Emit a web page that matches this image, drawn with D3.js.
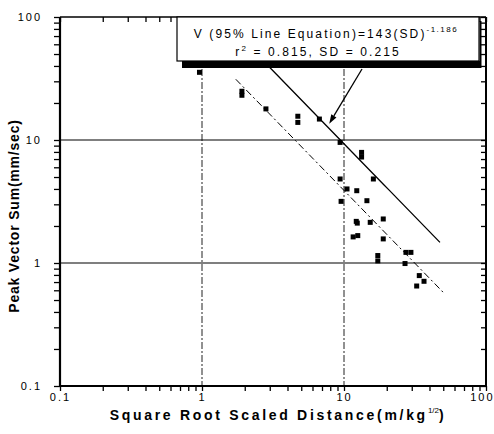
<!DOCTYPE html>
<html>
<head>
<meta charset="utf-8">
<script src="https://cdn.jsdelivr.net/npm/d3@7"></script>
<style>
  html, body { margin: 0; padding: 0; background: #fff; }
  svg { display: block; font-family: "Liberation Sans", Arial, sans-serif; }
</style>
</head>
<body>
<svg id="chart" width="494" height="434"></svg>
<script>
// Square-root scaled distance (m/kg^1/2) for each blast record
const sd = [0.96, 1.91, 1.91, 2.82, 4.73, 4.73, 6.71, 9.39, 13.3, 13.3,
            16.1, 9.39, 10.5, 12.3, 9.54, 14.5, 12.2, 12.4, 15.3, 18.9,
            11.6, 12.5, 18.9, 17.3, 17.3, 27.3, 29.6, 26.9, 33.9, 36.6, 32.5];
// Peak vector sum (mm/sec) for each record
const pvs = [35.5, 24.9, 23.1, 17.9, 15.6, 13.9, 14.8, 9.56, 7.93, 7.27,
             4.82, 4.82, 4.0, 3.87, 3.17, 3.21, 2.18, 2.11, 2.14, 2.28,
             1.63, 1.67, 1.57, 1.15, 1.04, 1.22, 1.22, 0.99, 0.79, 0.71, 0.65];

// Attenuation lines V = K * SD^b
const fitExponent = -1.186;
const fit95K = 143;      // 95% line
const fit50K = 59.7;     // mean line
const fit95Range = [1.73, 47.4];
const fit50Range = [1.73, 51.4];

const majorTicks = [0.1, 1, 10, 100];
const tickLabels = ["0.1", "1", "10", "100"];

const svg = d3.select("#chart");
const plotL = 60, plotR = 486, plotT = 17, plotB = 386;

const x = d3.scaleLog().domain([0.1, 100]).range([plotL, plotR]);
const y = d3.scaleLog().domain([0.1, 100]).range([plotB, plotT]);

// all decade sub-ticks 1..9 x 10^k
const allTicks = [];
[0.1, 1, 10].forEach(d => { for (let m = 1; m < 10; m++) allTicks.push(+(d * m).toPrecision(3)); });
allTicks.push(100);
const isMajor = v => majorTicks.some(m => Math.abs(m - v) < 1e-9);
const labelOf = v => tickLabels[majorTicks.findIndex(m => Math.abs(m - v) < 1e-9)];

// grid lines at 1 and 10
const g = svg.append("g");
[1, 10].forEach(v => {
  g.append("line").attr("x1", plotL).attr("x2", plotR)
    .attr("y1", y(v)).attr("y2", y(v))
    .attr("stroke", "#000").attr("stroke-width", 1.2);
  g.append("line").attr("x1", x(v)).attr("x2", x(v))
    .attr("y1", plotT).attr("y2", plotB)
    .attr("stroke", "#222").attr("stroke-width", 1)
    .attr("stroke-dasharray", "7,2,2,2");
});

// axes
const tickStyle = sel => {
  sel.select(".domain").remove();
  sel.selectAll(".tick line").attr("stroke", "#000").attr("stroke-width", 1.3);
  sel.selectAll(".tick text")
    .attr("font-size", 11).attr("letter-spacing", "2px").attr("fill", "#000");
};

const xAxisG = svg.append("g").attr("transform", `translate(0,${plotB})`)
  .call(d3.axisBottom(x).tickValues(allTicks).tickSize(5).tickPadding(2)
    .tickFormat(v => isMajor(v) ? labelOf(v) : ""))
  .call(tickStyle);
// keep the last label inside the page
xAxisG.selectAll(".tick text").filter(v => v === 100)
  .attr("text-anchor", "end").attr("x", 494 - plotR);

svg.append("g").attr("transform", `translate(0,${plotT})`)
  .call(d3.axisBottom(x).tickValues(allTicks).tickSize(5).tickFormat(""))
  .call(tickStyle);

svg.append("g").attr("transform", `translate(${plotL},0)`)
  .call(d3.axisLeft(y).tickValues(allTicks).tickSize(6).tickPadding(12)
    .tickFormat(v => isMajor(v) ? labelOf(v) : ""))
  .call(tickStyle);

svg.append("g").attr("transform", `translate(${plotR},0)`)
  .call(d3.axisLeft(y).tickValues(allTicks).tickSize(5).tickFormat(""))
  .call(tickStyle);

// frame
svg.append("line").attr("x1", plotL).attr("x2", plotR).attr("y1", plotT).attr("y2", plotT)
  .attr("stroke", "#000").attr("stroke-width", 1.5);
svg.append("line").attr("x1", plotL).attr("x2", plotR).attr("y1", plotB).attr("y2", plotB)
  .attr("stroke", "#000").attr("stroke-width", 2);
svg.append("line").attr("x1", plotL).attr("x2", plotL).attr("y1", plotT).attr("y2", plotB)
  .attr("stroke", "#000").attr("stroke-width", 2.2);
svg.append("line").attr("x1", plotR).attr("x2", plotR).attr("y1", plotT).attr("y2", plotB)
  .attr("stroke", "#000").attr("stroke-width", 2);

// attenuation lines
const fitLine = (K, range) => {
  const pts = d3.range(0, 41).map(i => {
    const s = Math.exp(Math.log(range[0]) + (Math.log(range[1]) - Math.log(range[0])) * i / 40);
    return [s, K * Math.pow(s, fitExponent)];
  });
  return d3.line().x(d => x(d[0])).y(d => y(d[1]))(pts);
};
svg.append("path").attr("d", fitLine(fit50K, fit50Range))
  .attr("fill", "none").attr("stroke", "#000").attr("stroke-width", 1)
  .attr("stroke-dasharray", "7,3,2,3");
svg.append("path").attr("d", fitLine(fit95K, fit95Range))
  .attr("fill", "none").attr("stroke", "#000").attr("stroke-width", 1.3);

// data points
svg.append("g").selectAll("rect").data(sd.map((s, i) => [s, pvs[i]]))
  .join("rect")
  .attr("x", d => x(d[0]) - 2.5).attr("y", d => y(d[1]) - 2.5)
  .attr("width", 5).attr("height", 5).attr("fill", "#000");

// equation box with a shadow band under it
const box = { x: 177, y: plotT, w: 302, h: 44 };
svg.append("rect").attr("x", box.x + 5).attr("y", box.y + box.h)
  .attr("width", box.w - 3).attr("height", 7).attr("fill", "#000");
svg.append("line").attr("x1", box.x + box.w + 1.5).attr("x2", box.x + box.w + 1.5)
  .attr("y1", box.y + 4).attr("y2", box.y + box.h + 7)
  .attr("stroke", "#000").attr("stroke-width", 2);
svg.append("rect").attr("x", box.x).attr("y", box.y)
  .attr("width", box.w).attr("height", box.h)
  .attr("fill", "#fff").attr("stroke", "#000").attr("stroke-width", 1.2);

const t1 = svg.append("text").attr("x", box.x + box.w / 2 - 2).attr("y", box.y + 21)
  .attr("text-anchor", "middle").attr("font-size", 12).attr("letter-spacing", "2.1px");
t1.append("tspan").text("V (95% Line Equation)=143(SD)");
t1.append("tspan").attr("dy", -6).attr("font-size", 8).attr("letter-spacing", "1.5px").text("-1.186");

const t2 = svg.append("text").attr("x", box.x + box.w / 2 - 10).attr("y", box.y + 39)
  .attr("text-anchor", "middle").attr("font-size", 12).attr("letter-spacing", "2.1px");
t2.append("tspan").text("r");
t2.append("tspan").attr("dy", -5).attr("font-size", 8).text("2");
t2.append("tspan").attr("dy", 5).text(" = 0.815, SD = 0.215");

// arrow from the box to the 95% line
const arrowSD = 8;
const tip = [x(arrowSD) - 1, y(fit95K * Math.pow(arrowSD, fitExponent)) - 6];
const start = [box.x + 185, box.y + box.h + 8];
const ang = Math.atan2(tip[1] - start[1], tip[0] - start[0]);
const hl = 9, hw = 3;
const base = [tip[0] - hl * Math.cos(ang), tip[1] - hl * Math.sin(ang)];
svg.append("line").attr("x1", start[0]).attr("y1", start[1])
  .attr("x2", base[0]).attr("y2", base[1])
  .attr("stroke", "#000").attr("stroke-width", 1.3);
svg.append("path")
  .attr("d", `M${tip[0]},${tip[1]}L${base[0] + hw * Math.sin(ang)},${base[1] - hw * Math.cos(ang)}L${base[0] - hw * Math.sin(ang)},${base[1] + hw * Math.cos(ang)}Z`)
  .attr("fill", "#000");

// axis titles
const xt = svg.append("text").attr("x", 278).attr("y", 420)
  .attr("text-anchor", "middle").attr("font-size", 14).attr("font-weight", "bold")
  .attr("letter-spacing", "2.7px");
xt.append("tspan").text("Square Root Scaled Distance(m/kg");
xt.append("tspan").attr("dy", -7).attr("font-size", 8).attr("font-weight", "normal").attr("letter-spacing", "0px").text("1/2");
xt.append("tspan").attr("dy", 7).text(")");

svg.append("text").attr("transform", "translate(19,216) rotate(-90)")
  .attr("text-anchor", "middle").attr("font-size", 14).attr("font-weight", "bold")
  .attr("letter-spacing", "0.8px").text("Peak Vector Sum(mm/sec)");
</script>
</body>
</html>
